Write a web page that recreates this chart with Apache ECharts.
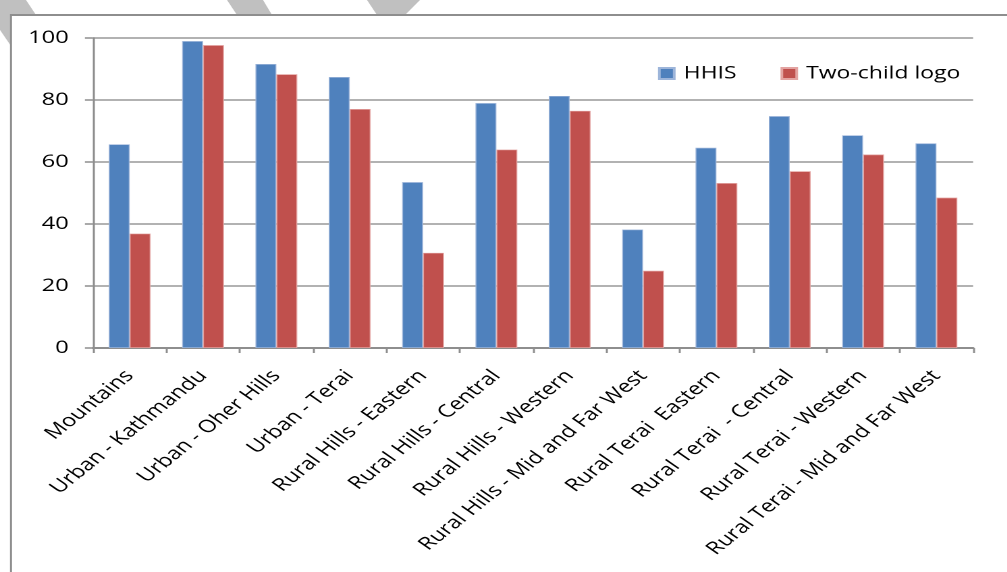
<!DOCTYPE html>
<html>
<head>
<meta charset="utf-8">
<title>HHIS vs Two-child logo</title>
<script src="https://cdn.jsdelivr.net/npm/echarts@6/dist/echarts.min.js"></script>
<style>
  html, body { margin: 0; padding: 0; background: #fff; }
  #wrap { width: 1007px; height: 572px; overflow: hidden; position: relative; background: #fff; }
  #chart { height: 572px; transform-origin: 0 0; }
</style>
</head>
<body>
<div id="wrap"><div id="chart"></div></div>
<script>
// Regions surveyed
const categories = [
  'Mountains',
  'Urban - Kathmandu',
  'Urban - Oher Hills',
  'Urban - Terai',
  'Rural Hills - Eastern',
  'Rural Hills - Central',
  'Rural Hills - Western',
  'Rural Hills - Mid and Far West',
  'Rural Terai  Eastern',
  'Rural Terai  - Central',
  'Rural Terai - Western',
  'Rural Terai - Mid and Far West'
];

// Percentages per region
const hhis     = [65.7, 99.0, 91.6, 87.4, 53.5, 79.0, 81.3, 38.2, 64.6, 74.8, 68.6, 66.0];
const twoChild = [36.9, 97.7, 88.3, 77.1, 30.7, 64.0, 76.5, 24.9, 53.2, 57.0, 62.4, 48.5];

// Value axis ticks
const yTicks = [0, 20, 40, 60, 80, 100];

const seriesNames = ['HHIS', 'Two-child logo'];

// The drawing is laid out in a narrower space and widened horizontally
const SX = 1.35;
const W = 1007 / SX;
const el = document.getElementById('chart');
el.style.width = W + 'px';
el.style.transform = 'scaleX(' + SX + ')';

const X = v => v / SX;           // page x -> layout x
const FONT = 'Open Sans';
const GRAY = '#8e8e8e';
const STRIPE = '#c0c0c0';

const chart = echarts.init(el, null, { renderer: 'canvas', devicePixelRatio: 2 });

chart.setOption({
  animation: false,
  backgroundColor: '#fff',
  textStyle: { fontFamily: FONT },
  graphic: [
    // light diagonal bands along the top edge
    { type: 'polygon', z: 0, silent: true,
      shape: { points: [[X(0), 0], [X(26), 0], [X(36), 15], [X(11), 15], [X(11), 46], [X(0), 30]] },
      style: { fill: STRIPE } },
    { type: 'polygon', z: 0, silent: true,
      shape: { points: [[X(227), 0], [X(263), 0], [X(272), 15], [X(237), 15]] },
      style: { fill: STRIPE } },
    { type: 'polygon', z: 0, silent: true,
      shape: { points: [[X(367), 0], [X(420), 0], [X(405), 15], [X(377), 15]] },
      style: { fill: STRIPE } },
    // outer frame of the chart area
    { type: 'line', z: 1, silent: true,
      shape: { x1: X(11), y1: 15, x2: W + 2, y2: 15 },
      style: { stroke: GRAY, lineWidth: 2 } },
    { type: 'line', z: 1, silent: true,
      shape: { x1: X(11), y1: 14, x2: X(11), y2: 580 },
      style: { stroke: GRAY, lineWidth: 2 / SX } }
  ],
  legend: {
    data: seriesNames,
    left: X(658),
    top: 63.5,
    padding: 0,
    itemWidth: 11,
    itemHeight: 11,
    itemGap: X(44),
    icon: 'rect',
    textStyle: {
      fontFamily: FONT,
      fontSize: 17,
      lineHeight: 20,
      color: '#000',
      padding: [0, 0, 0, 2]
    }
  },
  grid: {
    left: X(93),
    right: W - X(973),
    top: 38,
    bottom: 572 - 348,
    containLabel: false
  },
  xAxis: {
    type: 'category',
    data: categories,
    boundaryGap: true,
    axisLine: { show: true, lineStyle: { color: GRAY, width: 2 } },
    axisTick: { show: true, length: 5, lineStyle: { color: GRAY, width: 2 / SX } },
    axisLabel: {
      interval: 0,
      rotate: 47,
      margin: 25,
      fontFamily: FONT,
      fontSize: 17.5,
      color: '#000'
    },
    splitLine: { show: false }
  },
  yAxis: {
    type: 'value',
    min: yTicks[0],
    max: yTicks[yTicks.length - 1],
    interval: yTicks[1] - yTicks[0],
    axisLine: { show: true, lineStyle: { color: GRAY, width: 2 / SX } },
    axisTick: { show: true, length: 6, lineStyle: { color: GRAY, width: 1.5 } },
    axisLabel: {
      margin: 18,
      fontFamily: FONT,
      fontSize: 17.5,
      color: '#000'
    },
    splitLine: { show: true, lineStyle: { color: '#999', width: 1.5 } }
  },
  series: [
    {
      name: seriesNames[0],
      type: 'bar',
      data: hhis,
      barGap: '0%',
      barCategoryGap: '43%',
      itemStyle: { color: '#4F81BD', borderColor: '#9db5da', borderWidth: 0.7 }
    },
    {
      name: seriesNames[1],
      type: 'bar',
      data: twoChild,
      barGap: '0%',
      barCategoryGap: '43%',
      itemStyle: { color: '#C0504D', borderColor: '#e3a3a1', borderWidth: 0.7 }
    }
  ]
});
</script>
</body>
</html>
